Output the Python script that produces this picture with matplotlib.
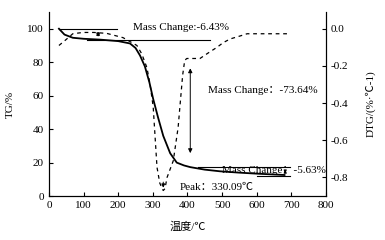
import numpy as np
import matplotlib.pyplot as plt

plt.rcParams['font.family'] = ['Liberation Serif', 'Noto Sans CJK SC']
plt.rcParams['font.size'] = 8

# TG curve (mass %, left axis)
tg_temp = [29, 45, 69, 100, 147, 200, 234, 250, 263, 277, 290, 301, 315, 330, 350, 369, 390, 408, 450, 494, 550, 600, 650, 680]
tg_mass = [100, 96.5, 94.6, 94.0, 93.5, 92.6, 91.2, 88.5, 84.0, 77.5, 68.0, 58.0, 47.0, 36.0, 25.6, 20.0, 18.3, 17.3, 15.8, 14.8, 14.0, 13.4, 12.9, 12.6]

# DTG curve (%/℃, right axis)
dtg_temp = [29, 46, 69, 98, 130, 167, 214, 254, 268, 283, 292, 301, 312, 320, 327, 330, 335, 341, 359, 373, 379, 386, 392, 398, 420, 436, 460, 485, 503, 523, 550, 572, 618, 688]
dtg_val = [-0.09, -0.064, -0.027, -0.02, -0.02, -0.025, -0.048, -0.09, -0.135, -0.21, -0.30, -0.42, -0.745, -0.83, -0.86, -0.87, -0.86, -0.80, -0.71, -0.53, -0.40, -0.25, -0.17, -0.16, -0.16, -0.16, -0.13, -0.10, -0.075, -0.055, -0.04, -0.027, -0.027, -0.027]

fig = plt.figure(figsize=(3.85, 2.4), dpi=100)
ax = fig.add_axes([0.127, 0.183, 0.72, 0.767])
ax2 = ax.twinx()

ax.plot(tg_temp, tg_mass, color='black', lw=1.3)
ax2.plot(dtg_temp, dtg_val, color='black', lw=0.9, ls=(0, (3, 3)))

ax.set_xlim(0, 800)
ax.set_ylim(0, 110)
ax2.set_ylim(-0.9, 0.09)
ax.set_xticks(range(0, 801, 100))
ax.set_yticks(range(0, 101, 20))
ax2.set_yticks([0.0, -0.2, -0.4, -0.6, -0.8])
ax2.set_yticklabels(['0.0', '-0.2', '-0.4', '-0.6', '-0.8'])

ax.spines['top'].set_visible(False)
ax2.spines['top'].set_visible(False)
ax.tick_params(direction='in', length=3, width=0.8, labelsize=8)
ax2.tick_params(direction='in', length=3, width=0.8, labelsize=8)

ax.set_xlabel('温度/℃', fontsize=8, labelpad=8)
ax.set_ylabel('TG/%', fontsize=8, labelpad=9)
ax2.set_ylabel('DTG/(%·℃-1)', fontsize=8, labelpad=12)

# annotation lines
ax.plot([29, 197], [100, 100], color='black', lw=0.8)
ax.plot([110, 465], [93.5, 93.5], color='black', lw=0.8)
ax.annotate('', xy=(142, 100), xytext=(142, 93.5),
            arrowprops=dict(arrowstyle='<|-|>', color='black', lw=0.7, mutation_scale=5))
ax.text(244, 101, 'Mass Change:-6.43%', fontsize=8, va='center')

ax.annotate('', xy=(408, 78), xytext=(408, 24),
            arrowprops=dict(arrowstyle='<|-|>', color='black', lw=0.7, mutation_scale=6))
ax.text(460, 63, 'Mass Change：-73.64%', fontsize=8, va='center')

ax.plot([430, 697], [17.3, 17.3], color='black', lw=0.8)
ax.plot([600, 697], [12.0, 12.0], color='black', lw=0.8)
ax.annotate('', xy=(682, 17.3), xytext=(682, 12.0),
            arrowprops=dict(arrowstyle='<|-|>', color='black', lw=0.7, mutation_scale=4))
ax.text(500, 15.2, 'Mass Change：-5.63%', fontsize=8, va='center')

ax2.annotate('', xy=(330, -0.87), xytext=(330, -0.81),
             arrowprops=dict(arrowstyle='-|>', color='black', lw=0.7, mutation_scale=5))
ax.text(378, 5, 'Peak：330.09℃', fontsize=8, va='center')

fig.savefig('out.png', dpi=100)
